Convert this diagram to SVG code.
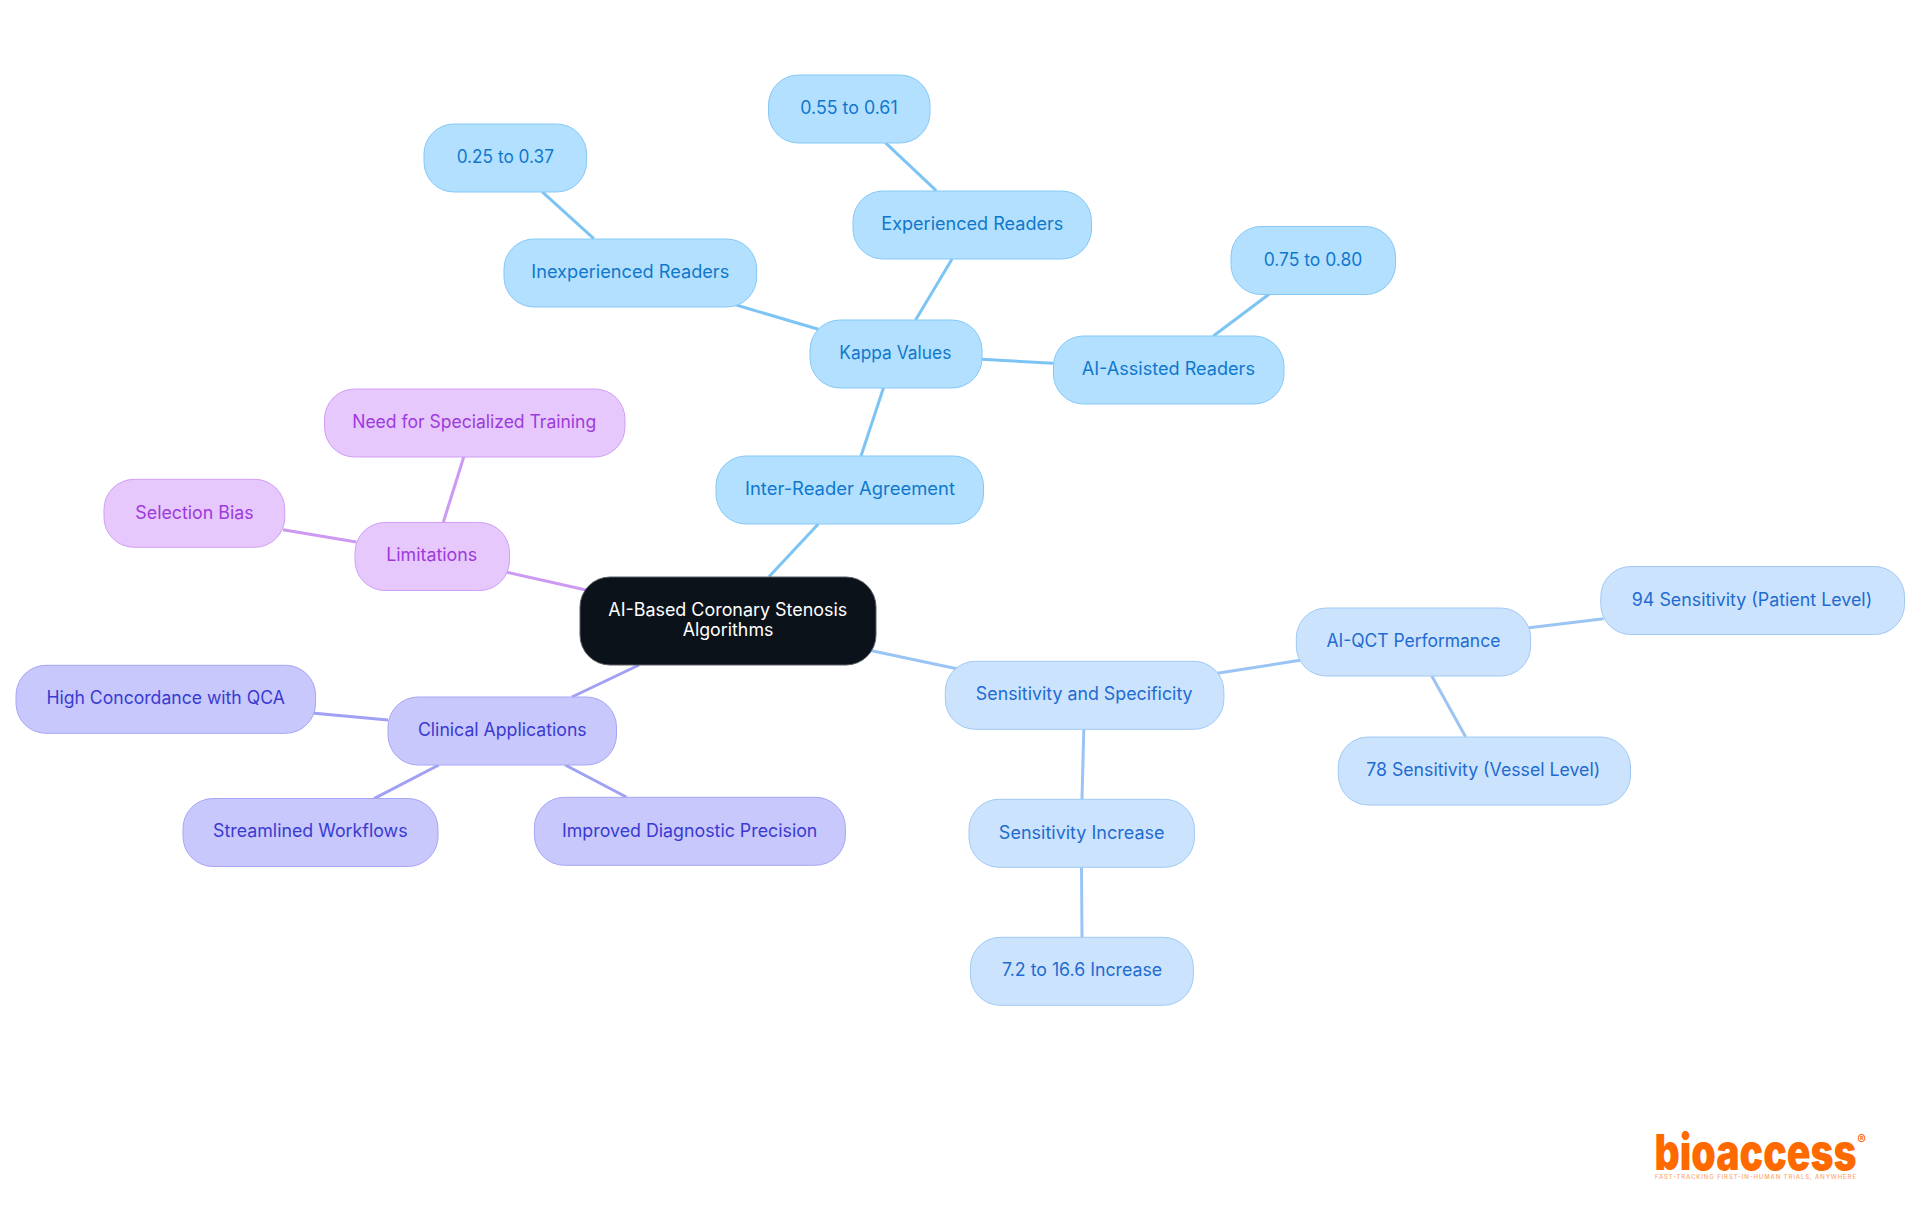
<svg xmlns="http://www.w3.org/2000/svg" width="1920" height="1215" viewBox="0 0 1920 1215">
<style>
text{font-family:"Inter","Noto Sans","Liberation Sans",sans-serif;font-size:18px;font-weight:400;text-anchor:middle}
.n rect{stroke-width:1}
#edges line{stroke-width:3;stroke-linecap:butt}
.b1 rect{fill:#b3e0ff;stroke:#85c8f6}.b1 text{fill:#1078cc}
.b2 rect{fill:#cce3fd;stroke:#a0c9f5}.b2 text{fill:#1f6bd0}
.b3 rect{fill:#c8c8fd;stroke:#a6a6f6}.b3 text{fill:#3a3ad0}
.b4 rect{fill:#e6c8fd;stroke:#d09ff5}.b4 text{fill:#9d3adc}
.e1{stroke:#7cc4f4}.e2{stroke:#9ac4f4}.e3{stroke:#a0a0f4}.e4{stroke:#cc99f4}
</style>
<rect width="1920" height="1215" fill="#ffffff"/>
<g id="edges">
<line class="e1" x1="818.3" y1="524" x2="769" y2="576.7"/>
<line class="e1" x1="861" y1="456" x2="883.5" y2="387.7"/>
<line class="e1" x1="915.6" y1="320" x2="952.2" y2="258.7"/>
<line class="e1" x1="936.2" y1="190.7" x2="885.3" y2="142.7"/>
<line class="e1" x1="818.3" y1="329.3" x2="733" y2="304"/>
<line class="e1" x1="593.8" y1="238.7" x2="542" y2="191.7"/>
<line class="e1" x1="981.7" y1="359.3" x2="1053.3" y2="363.3"/>
<line class="e1" x1="1213.3" y1="336" x2="1269" y2="294.3"/>
<line class="e4" x1="586" y1="590" x2="506" y2="572"/>
<line class="e4" x1="443.3" y1="522.3" x2="463.8" y2="456.7"/>
<line class="e4" x1="356.3" y1="542" x2="283" y2="529.7"/>
<line class="e3" x1="639" y1="665" x2="571.9" y2="697"/>
<line class="e3" x1="388" y1="720" x2="312" y2="713"/>
<line class="e3" x1="438.8" y1="765" x2="374" y2="798.7"/>
<line class="e3" x1="565.2" y1="765" x2="626.3" y2="797"/>
<line class="e2" x1="871.7" y1="650.7" x2="958" y2="669"/>
<line class="e2" x1="1217.4" y1="673.3" x2="1300" y2="660.3"/>
<line class="e2" x1="1529" y1="627.7" x2="1603.7" y2="618.7"/>
<line class="e2" x1="1431.8" y1="676" x2="1465.7" y2="737"/>
<line class="e2" x1="1083.8" y1="729" x2="1082" y2="799.3"/>
<line class="e2" x1="1081.5" y1="867.3" x2="1082" y2="937.3"/>
</g>
<g id="root" class="n"><rect x="580" y="577" width="296" height="88" rx="30" fill="#0c121a" stroke="#5a5f66"/><text x="727.8" y="615.7" fill="#ffffff" textLength="239" lengthAdjust="spacingAndGlyphs">AI-Based Coronary Stenosis</text><text x="728" y="636" fill="#ffffff" textLength="90.7" lengthAdjust="spacingAndGlyphs">Algorithms</text></g>
<g id="inter-reader" class="n b1"><rect x="716" y="456" width="267.5" height="68" rx="30"/><text x="850" y="495" textLength="210" lengthAdjust="spacingAndGlyphs">Inter-Reader Agreement</text></g>
<g id="kappa" class="n b1"><rect x="810" y="320" width="172" height="68" rx="30"/><text x="895.3" y="359" textLength="112" lengthAdjust="spacingAndGlyphs">Kappa Values</text></g>
<g id="inexperienced" class="n b1"><rect x="504" y="239" width="252.7" height="68" rx="30"/><text x="630.3" y="278" textLength="198" lengthAdjust="spacingAndGlyphs">Inexperienced Readers</text></g>
<g id="k025" class="n b1"><rect x="424" y="124" width="162.6" height="68" rx="30"/><text x="505.3" y="163" textLength="97.3" lengthAdjust="spacingAndGlyphs">0.25 to 0.37</text></g>
<g id="experienced" class="n b1"><rect x="853" y="191" width="238.5" height="68" rx="30"/><text x="972.3" y="230" textLength="182" lengthAdjust="spacingAndGlyphs">Experienced Readers</text></g>
<g id="k055" class="n b1"><rect x="768.5" y="75" width="161.5" height="68" rx="30"/><text x="849" y="114" textLength="97.3" lengthAdjust="spacingAndGlyphs">0.55 to 0.61</text></g>
<g id="ai-assisted" class="n b1"><rect x="1053.5" y="336" width="230.5" height="68" rx="30"/><text x="1168.3" y="375" textLength="173.3" lengthAdjust="spacingAndGlyphs">AI-Assisted Readers</text></g>
<g id="k075" class="n b1"><rect x="1231" y="226.5" width="164.5" height="68" rx="30"/><text x="1313" y="265.5" textLength="98.7" lengthAdjust="spacingAndGlyphs">0.75 to 0.80</text></g>
<g id="limitations" class="n b4"><rect x="355" y="522.5" width="154.5" height="68" rx="30"/><text x="431.7" y="561" textLength="91" lengthAdjust="spacingAndGlyphs">Limitations</text></g>
<g id="training" class="n b4"><rect x="324.5" y="389" width="300.5" height="68" rx="30"/><text x="474.2" y="428" textLength="244" lengthAdjust="spacingAndGlyphs">Need for Specialized Training</text></g>
<g id="bias" class="n b4"><rect x="104" y="479.3" width="180.8" height="68" rx="30"/><text x="194.5" y="518.8" textLength="118.3" lengthAdjust="spacingAndGlyphs">Selection Bias</text></g>
<g id="clinical" class="n b3"><rect x="388" y="697" width="228.5" height="68" rx="30"/><text x="502.3" y="736" textLength="168.8" lengthAdjust="spacingAndGlyphs">Clinical Applications</text></g>
<g id="concordance" class="n b3"><rect x="16" y="665.3" width="299.6" height="68" rx="30"/><text x="165.6" y="704.3" textLength="238.4" lengthAdjust="spacingAndGlyphs">High Concordance with QCA</text></g>
<g id="workflows" class="n b3"><rect x="183" y="798.5" width="255" height="68" rx="30"/><text x="310.3" y="837" textLength="194.6" lengthAdjust="spacingAndGlyphs">Streamlined Workflows</text></g>
<g id="precision" class="n b3"><rect x="534.4" y="797.3" width="311" height="68" rx="30"/><text x="689.7" y="837" textLength="255.4" lengthAdjust="spacingAndGlyphs">Improved Diagnostic Precision</text></g>
<g id="sensitivity" class="n b2"><rect x="945.3" y="661.3" width="278.6" height="68" rx="30"/><text x="1084.2" y="700.3" textLength="216.7" lengthAdjust="spacingAndGlyphs">Sensitivity and Specificity</text></g>
<g id="increase" class="n b2"><rect x="969" y="799.3" width="225.5" height="68" rx="30"/><text x="1081.7" y="839" textLength="165.7" lengthAdjust="spacingAndGlyphs">Sensitivity Increase</text></g>
<g id="increase-range" class="n b2"><rect x="970.4" y="937.3" width="223" height="68" rx="30"/><text x="1082" y="976.3" textLength="160.2" lengthAdjust="spacingAndGlyphs">7.2 to 16.6 Increase</text></g>
<g id="ai-qct" class="n b2"><rect x="1296.3" y="608" width="234.3" height="68" rx="30"/><text x="1413.4" y="647" textLength="173.9" lengthAdjust="spacingAndGlyphs">AI-QCT Performance</text></g>
<g id="patient" class="n b2"><rect x="1600.8" y="566.5" width="303.7" height="68" rx="30"/><text x="1752" y="605.5" textLength="240.4" lengthAdjust="spacingAndGlyphs">94 Sensitivity (Patient Level)</text></g>
<g id="vessel" class="n b2"><rect x="1338.3" y="737" width="292.2" height="68" rx="30"/><text x="1483.2" y="776" textLength="234" lengthAdjust="spacingAndGlyphs">78 Sensitivity (Vessel Level)</text></g>
<g id="logo">
<text x="1755.5" y="1170" style="font-size:50px;font-weight:900" fill="#ff6a00" textLength="202" lengthAdjust="spacingAndGlyphs">bioaccess</text>
<text x="1861.5" y="1144" style="font-size:13px;font-weight:700" fill="#ff6a00">®</text>
<text x="1755.5" y="1179" style="font-size:6px;font-weight:500" fill="#ff6a00" opacity="0.6" textLength="201">FAST-TRACKING FIRST-IN-HUMAN TRIALS, ANYWHERE</text>
</g>
</svg>
